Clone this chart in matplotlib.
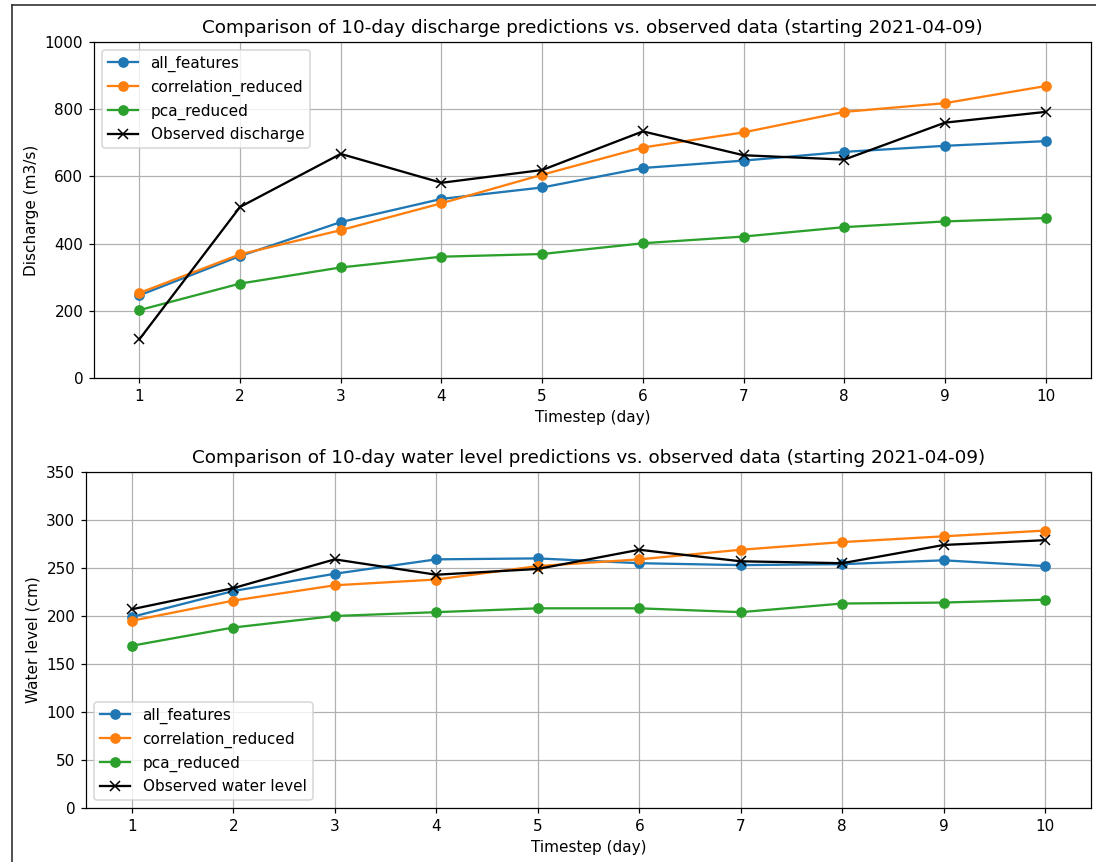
import matplotlib
matplotlib.use("Agg")
import matplotlib.pyplot as plt
from matplotlib.lines import Line2D

days = list(range(1, 11))

# Discharge forecasts (m3/s)
q_all_features = [246, 363, 464, 533, 567, 625, 647, 673, 691, 705]
q_correlation_reduced = [253, 368, 440, 520, 605, 686, 731, 792, 818, 869]
q_pca_reduced = [202, 281, 329, 361, 369, 401, 421, 449, 466, 476]
q_observed = [115, 509, 667, 581, 619, 734, 663, 650, 760, 792]

# Water level forecasts (cm)
wl_all_features = [199, 226, 244, 259, 260, 255, 253, 254, 258, 252]
wl_correlation_reduced = [195, 216, 232, 238, 252, 259, 269, 277, 283, 289]
wl_pca_reduced = [169, 188, 200, 204, 208, 208, 204, 213, 214, 217]
wl_observed = [207, 229, 259, 243, 249, 269, 257, 255, 274, 279]

W, H = 1096, 862
DPI = 110
fig = plt.figure(figsize=(W / DPI, H / DPI), dpi=DPI)


def box(l, t, r, b):
    return [l / W, 1 - b / H, (r - l) / W, (b - t) / H]


ax1 = fig.add_axes(box(94, 42, 1091, 378))
ax2 = fig.add_axes(box(86, 472, 1091, 808))

ax1.plot(days, q_all_features, marker="o", label="all_features")
ax1.plot(days, q_correlation_reduced, marker="o", label="correlation_reduced")
ax1.plot(days, q_pca_reduced, marker="o", label="pca_reduced")
ax1.plot(days, q_observed, marker="x", color="black", label="Observed discharge")
ax1.set_ylim(0, 1000)
ax1.set_xticks(days)
ax1.set_xlabel("Timestep (day)")
ax1.set_ylabel("Discharge (m3/s)")
ax1.set_title("Comparison of 10-day discharge predictions vs. observed data (starting 2021-04-09)")
ax1.legend(loc="upper left")
ax1.grid(True)

ax2.plot(days, wl_all_features, marker="o", label="all_features")
ax2.plot(days, wl_correlation_reduced, marker="o", label="correlation_reduced")
ax2.plot(days, wl_pca_reduced, marker="o", label="pca_reduced")
ax2.plot(days, wl_observed, marker="x", color="black", label="Observed water level")
ax2.set_ylim(0, 350)
ax2.set_xticks(days)
ax2.set_xlabel("Timestep (day)")
ax2.set_ylabel("Water level (cm)")
ax2.set_title("Comparison of 10-day water level predictions vs. observed data (starting 2021-04-09)")
ax2.legend(loc="lower left")
ax2.grid(True)

# Outer frame along the left and top edges
fx, fy = 12 / W, 1 - 5 / H
fig.add_artist(Line2D([fx, fx], [0, fy], transform=fig.transFigure, color="#333333", lw=1.1))
fig.add_artist(Line2D([fx, 1], [fy, fy], transform=fig.transFigure, color="#333333", lw=1.1))

fig.savefig("out.png", dpi=DPI)
